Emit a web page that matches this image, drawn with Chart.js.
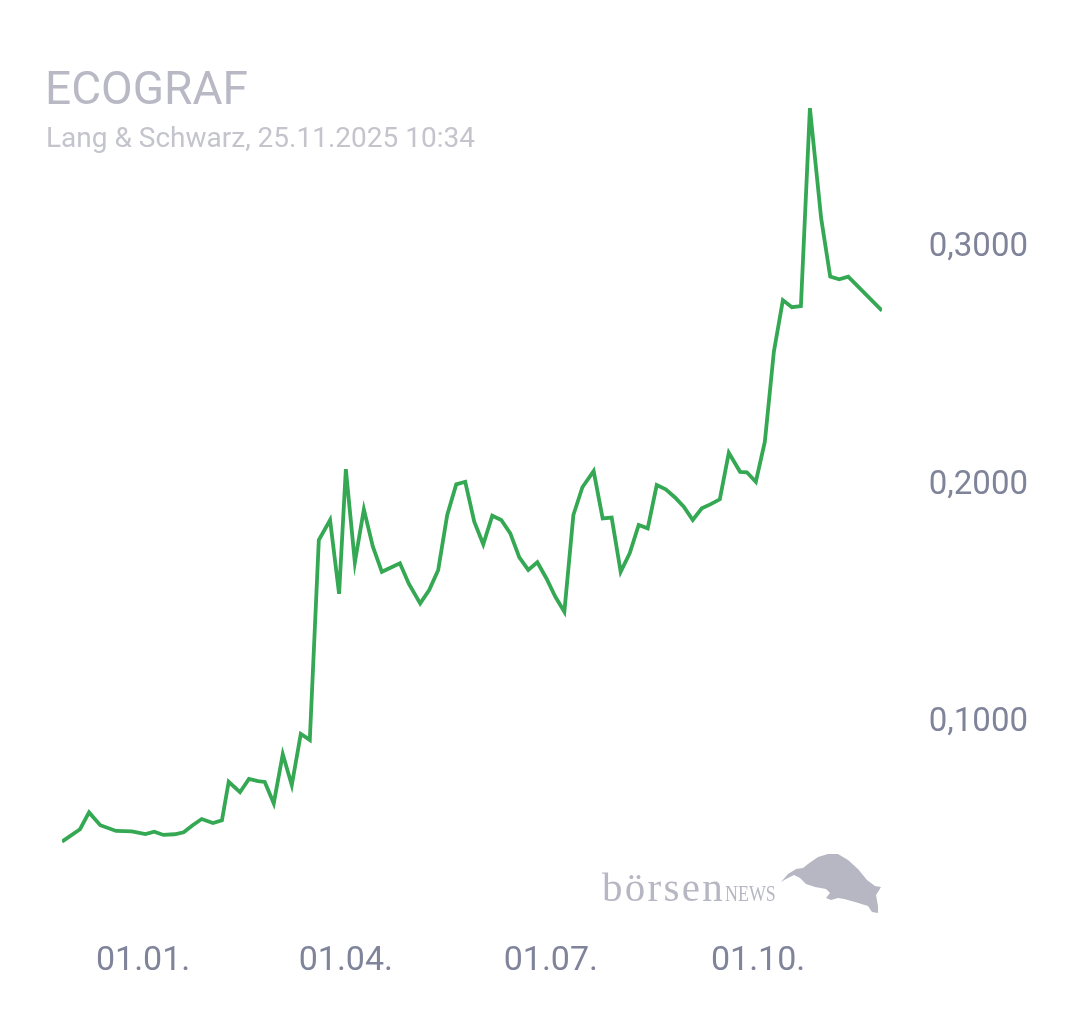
<!DOCTYPE html>
<html>
<head>
<meta charset="utf-8">
<script src="https://cdn.jsdelivr.net/npm/chart.js@4/dist/chart.umd.min.js"></script>
<style>
  body { margin: 0; background: #fff; }
  #wrap { position: relative; width: 1080px; height: 1013px; }
  #chart { position: absolute; left: 0; top: 0; }
  .title { position: absolute; left: 45px; top: 65px; font: 400 46px Roboto; line-height: 1; color: #b9b9c5; white-space: nowrap; }
  .sub { position: absolute; left: 46px; top: 124px; font: 400 28px Roboto; line-height: 1; color: #c4c4cd; white-space: nowrap; }
  .logo { position: absolute; left: 602px; top: 867px; font-family: "Liberation Serif", serif; font-size: 41px; line-height: 1; color: #b7b7c4; white-space: nowrap; }
  .logo .b { letter-spacing: 2.3px; }
  .logo .n { display: inline-block; font-size: 23px; transform: scaleX(0.78); transform-origin: left bottom; }
  #bull { position: absolute; left: 0; top: 0; }
</style>
</head>
<body>
<div id="wrap">
  <canvas id="chart" width="1080" height="1013"></canvas>
  <div class="title">ECOGRAF</div>
  <div class="sub">Lang &amp; Schwarz, 25.11.2025 10:34</div>
  <div class="logo"><span class="b">börsen</span><span class="n">NEWS</span></div>
  <svg id="bull" width="1080" height="1013">
    <path fill="#b7b7c4" d="M781 882 L788 874 L796 869 L803 868 L808 864 L818 857 L828 854 L838 854 L848 860 L858 869 L867 880 L875 886 L881 887 L878 892 L876 895 L878 906 L878 913 L872 912 L868 906 L855 902 L844 899 L838 898 L831 900 L826 898 L830 893 L826 889 L815 887 L806 884 L800 878 L794 875 L786 879 Z"/>
  </svg>
</div>
<script>
// days since 01.01.2025
const days = [-36, -28, -24, -19, -12, -5, 1, 5, 9, 14, 18, 22, 26, 31, 35, 38, 43, 47, 51, 54, 58, 62, 66, 70, 74,
  78, 83, 87, 90, 94, 98, 102, 106, 114, 118, 123, 127, 131, 135, 139, 143, 147, 151, 155, 159, 163, 167, 171, 175,
  179, 183, 187, 191, 195, 200, 204, 208, 212, 216, 220, 224, 228, 232, 236, 240, 244, 248, 252, 256, 260, 265, 268,
  272, 276, 280, 284, 288, 292, 296, 301, 305, 309, 313, 328];
const prices = [0.0488, 0.0540, 0.0611, 0.0557, 0.0533, 0.0531, 0.0520, 0.0530, 0.0516, 0.0519, 0.0527, 0.0557, 0.0583,
  0.0566, 0.0578, 0.0740, 0.0696, 0.0752, 0.0743, 0.0739, 0.0649, 0.0856, 0.0726, 0.0941, 0.0916,
  0.1758, 0.1842, 0.1531, 0.2056, 0.1664, 0.1887, 0.1730, 0.1624, 0.1660, 0.1573, 0.1491, 0.1547, 0.1632, 0.1863,
  0.1992, 0.2003, 0.1835, 0.1740, 0.1860, 0.1842, 0.1786, 0.1685, 0.1632, 0.1664, 0.1597, 0.1519, 0.1456, 0.1863,
  0.1980, 0.2048, 0.1849, 0.1852, 0.1624, 0.1702, 0.1821, 0.1807, 0.1989, 0.1971, 0.1938, 0.1898, 0.1842, 0.1891,
  0.1909, 0.1929, 0.2125, 0.2045, 0.2043, 0.2003, 0.2172, 0.2551, 0.2768, 0.2738, 0.2743, 0.3576, 0.3112, 0.2867,
  0.2856, 0.2867, 0.2723];

const tickDays = [0, 90, 181, 273];
const tickLabels = ['01.01.', '01.04.', '01.07.', '01.10.'];
const yTicks = [0.1, 0.2, 0.3];
const yTickLabels = ['0,1000', '0,2000', '0,3000'];

Chart.defaults.font.family = 'Roboto';

const points = [];
for (let i = 0; i < days.length; i++) {
  points.push({ x: days[i], y: prices[i] });
}

new Chart(document.getElementById('chart'), {
  type: 'line',
  data: {
    datasets: [{
      data: points,
      borderColor: '#34a853',
      borderWidth: 3.8,
      pointRadius: 0,
      tension: 0,
      fill: false
    }]
  },
  options: {
    responsive: false,
    animation: false,
    devicePixelRatio: 1,
    layout: { padding: { left: 62, top: 102.5, right: 52, bottom: 0 } },
    plugins: { legend: { display: false }, tooltip: { enabled: false } },
    scales: {
      x: {
        type: 'linear',
        min: -36,
        max: 328,
        grid: { display: false, drawTicks: false },
        border: { display: false },
        afterBuildTicks: (scale) => { scale.ticks = tickDays.map(v => ({ value: v })); },
        afterFit: (scale) => { scale.height = 150.5; },
        ticks: {
          autoSkip: false,
          maxRotation: 0,
          padding: 79,
          color: '#80849a',
          font: { size: 34 },
          callback: (v) => tickLabels[tickDays.indexOf(v)]
        }
      },
      y: {
        position: 'right',
        min: 0.04,
        max: 0.36,
        grid: { display: false, drawTicks: false },
        border: { display: false },
        afterBuildTicks: (scale) => { scale.ticks = yTicks.map(v => ({ value: v })); },
        afterFit: (scale) => { scale.width = 146; },
        ticks: {
          crossAlign: 'far',
          labelOffset: 3,
          color: '#80849a',
          font: { size: 33 },
          callback: (v) => yTickLabels[yTicks.indexOf(v)]
        }
      }
    }
  }
});
</script>
</body>
</html>
